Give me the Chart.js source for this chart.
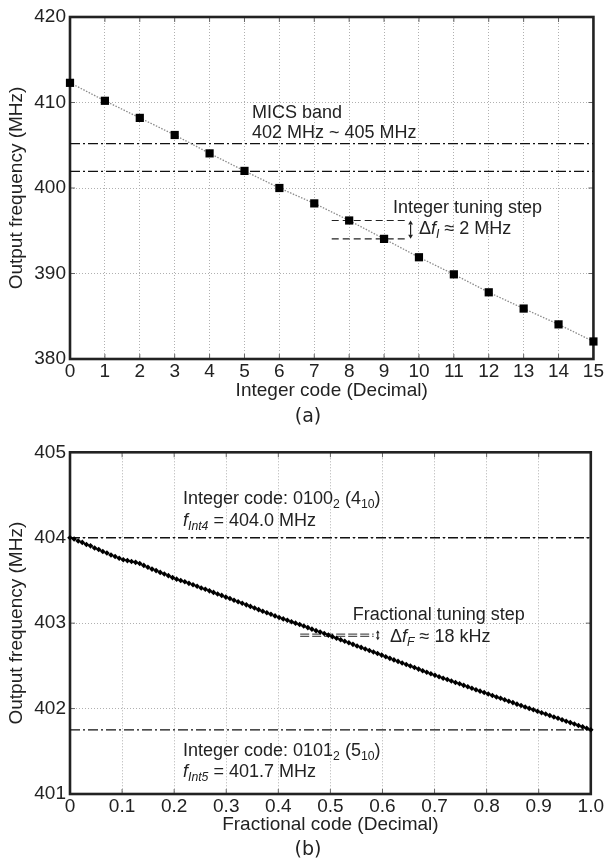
<!DOCTYPE html>
<html>
<head>
<meta charset="utf-8">
<script src="https://cdn.jsdelivr.net/npm/chart.js"></script>
<style>
  body { margin: 0; background: #fff; }
  canvas { position: absolute; left: 0; }
  #chart-a { top: 0; }
  #chart-b { top: 433px; }
</style>
</head>
<body>
<canvas id="chart-a" width="605" height="433"></canvas>
<canvas id="chart-b" width="605" height="430"></canvas>
<script>
// (a) integer code sweep
const intCodes = [0, 1, 2, 3, 4, 5, 6, 7, 8, 9, 10, 11, 12, 13, 14, 15];
const intFreq = [412.3, 410.2, 408.2, 406.2, 404.05, 402.0, 400.0, 398.2, 396.2, 394.05, 391.9, 389.9, 387.8, 385.9, 384.05, 382.05];
const micsEdges = [405.2, 401.95];
const intStepX = [7.5, 9.6];
const intStepY = [396.2, 394.05];

// (b) fractional code sweep, 128 codes spread over 0..1
const fracFreq = [
  404.000, 403.985, 403.962, 403.945, 403.921, 403.905, 403.880, 403.862, 403.838, 403.822,
  403.798, 403.781, 403.760, 403.742, 403.732, 403.722, 403.712, 403.698, 403.676, 403.655,
  403.633, 403.615, 403.594, 403.576, 403.556, 403.533, 403.515, 403.500, 403.484, 403.466,
  403.450, 403.432, 403.412, 403.396, 403.378, 403.360, 403.342, 403.325, 403.305, 403.288,
  403.268, 403.250, 403.233, 403.214, 403.196, 403.178, 403.158, 403.140, 403.122, 403.104,
  403.085, 403.066, 403.050, 403.034, 403.017, 403.000, 402.984, 402.966, 402.948, 402.930,
  402.912, 402.896, 402.878, 402.860, 402.842, 402.824, 402.806, 402.788, 402.770, 402.752,
  402.733, 402.716, 402.698, 402.680, 402.662, 402.644, 402.626, 402.606, 402.588, 402.570,
  402.552, 402.534, 402.516, 402.498, 402.480, 402.462, 402.443, 402.425, 402.408, 402.390,
  402.372, 402.355, 402.340, 402.322, 402.306, 402.290, 402.272, 402.255, 402.238, 402.221,
  402.204, 402.188, 402.170, 402.153, 402.136, 402.120, 402.103, 402.086, 402.070, 402.052,
  402.036, 402.019, 402.002, 401.986, 401.969, 401.952, 401.936, 401.919, 401.902, 401.886,
  401.869, 401.852, 401.836, 401.819, 401.802, 401.786, 401.769, 401.752
];
const intLevels = [404.0, 401.75];
const fracStepX = [0.442, 0.583];
const fracStepY = [402.872, 402.846];

const FONT = '"Liberation Sans", Arial, sans-serif';
const INK = '#222';
Chart.defaults.font.family = FONT;
Chart.defaults.color = INK;

// draw text pieces in a row, with italic / subscript parts
function richText(ctx, x, y, parts, size) {
  parts.forEach(p => {
    const s = p.sub ? size * 0.68 : size;
    ctx.font = (p.it ? 'italic ' : '') + s + 'px ' + FONT;
    ctx.fillText(p.t, x, p.sub ? y + size * 0.3 : y);
    x += ctx.measureText(p.t).width;
  });
}

function vArrow(ctx, x, y1, y2, head) {
  ctx.beginPath();
  ctx.moveTo(x, y1 + head); ctx.lineTo(x, y2 - head);
  ctx.stroke();
  ctx.beginPath();
  ctx.moveTo(x, y1); ctx.lineTo(x - head * 0.6, y1 + head); ctx.lineTo(x + head * 0.6, y1 + head); ctx.closePath();
  ctx.moveTo(x, y2); ctx.lineTo(x - head * 0.6, y2 - head); ctx.lineTo(x + head * 0.6, y2 - head); ctx.closePath();
  ctx.fill();
}

// box around plot + inward tick marks
const framePlugin = {
  id: 'frame',
  beforeDatasetsDraw(chart) {
    const { ctx, chartArea: a, scales: { x, y } } = chart;
    ctx.save();
    ctx.strokeStyle = '#666';
    ctx.lineWidth = 1;
    ctx.beginPath();
    x.ticks.forEach(t => {
      const px = x.getPixelForValue(t.value);
      ctx.moveTo(px, a.bottom); ctx.lineTo(px, a.bottom - 5);
      ctx.moveTo(px, a.top); ctx.lineTo(px, a.top + 5);
    });
    y.ticks.forEach(t => {
      const py = y.getPixelForValue(t.value);
      ctx.moveTo(a.left, py); ctx.lineTo(a.left + 5, py);
      ctx.moveTo(a.right, py); ctx.lineTo(a.right - 5, py);
    });
    ctx.stroke();
    ctx.strokeStyle = INK;
    ctx.lineWidth = 2.6;
    ctx.strokeRect(a.left, a.top, a.right - a.left, a.bottom - a.top);
    ctx.restore();
  }
};

function lineSet(xs, yv, dash, color, width) {
  return {
    data: [{ x: xs[0], y: yv }, { x: xs[1], y: yv }],
    borderColor: color, borderWidth: width, borderDash: dash,
    pointRadius: 0, fill: false
  };
}

function axes(xMin, xMax, xStep, yMin, yMax, yStep, xTitle, xPad, xH, xFmt) {
  return {
    x: {
      type: 'linear', min: xMin, max: xMax,
      ticks: { stepSize: xStep, padding: 1, font: { size: 19 }, color: INK, callback: xFmt },
      grid: { color: '#b0b0b0', lineWidth: 1, drawTicks: false },
      border: { display: false, dash: [1, 2] },
      title: { display: true, text: xTitle, font: { size: 19 }, color: INK, padding: { top: 0, bottom: xPad } },
      afterFit(s) { s.height = xH; }
    },
    y: {
      min: yMin, max: yMax,
      ticks: { stepSize: yStep, padding: 4, font: { size: 19 }, color: INK },
      grid: { color: '#b0b0b0', lineWidth: 1, drawTicks: false },
      border: { display: false, dash: [1, 2] },
      title: { display: true, text: 'Output frequency (MHz)', font: { size: 19 }, color: INK, padding: { top: 5.6, bottom: 0 } },
      afterFit(s) { s.width = 70; }
    }
  };
}

// ---------- chart (a) ----------
const notesA = {
  id: 'notesA',
  afterDatasetsDraw(chart) {
    const { ctx, scales: { x, y } } = chart;
    ctx.save();
    ctx.fillStyle = INK;
    ctx.strokeStyle = INK;
    ctx.textBaseline = 'middle';
    ctx.textAlign = 'left';
    richText(ctx, 252, 113, [{ t: 'MICS band' }], 18);
    richText(ctx, 252, 133, [{ t: '402 MHz ~ 405 MHz' }], 18);
    richText(ctx, 393, 208, [{ t: 'Integer tuning step' }], 18);
    richText(ctx, 419, 229, [{ t: 'Δ' }, { t: 'f', it: 1 }, { t: 'I', it: 1, sub: 1 }, { t: ' ≈ 2 MHz' }], 18);
    ctx.lineWidth = 1.2;
    vArrow(ctx, x.getPixelForValue(9.76), y.getPixelForValue(intStepY[0]), y.getPixelForValue(intStepY[1]), 4);
    ctx.textAlign = 'center';
    ctx.font = '19px "DejaVu Sans", sans-serif';
    ctx.fillText('(a)', 308, 417);
    ctx.restore();
  }
};

new Chart(document.getElementById('chart-a'), {
  type: 'line',
  data: {
    datasets: [
      {
        data: intCodes.map((c, i) => ({ x: c, y: intFreq[i] })),
        borderColor: '#8a8a8a', borderWidth: 1.3, borderDash: [1.5, 1.5],
        pointStyle: 'rect', pointRadius: 5.8, pointBackgroundColor: '#000', pointBorderWidth: 0,
        clip: false
      },
      lineSet(intStepX, intStepY[0], [7, 4], '#222', 1.2),
      lineSet(intStepX, intStepY[1], [7, 4], '#222', 1.2),
      lineSet([0, 15], micsEdges[0], [10, 3, 2, 3], '#111', 1.3),
      lineSet([0, 15], micsEdges[1], [10, 3, 2, 3], '#111', 1.3)
    ]
  },
  options: {
    responsive: false, animation: false, devicePixelRatio: 1,
    layout: { autoPadding: false, padding: { left: 0, top: 17, right: 11, bottom: 0 } },
    plugins: { legend: { display: false }, tooltip: { enabled: false } },
    scales: axes(0, 15, 1, 380, 420, 10, 'Integer code (Decimal)', 30.6, 74)
  },
  plugins: [framePlugin, notesA]
});

// ---------- chart (b) ----------
const notesB = {
  id: 'notesB',
  afterDatasetsDraw(chart) {
    const { ctx, scales: { x, y } } = chart;
    ctx.save();
    ctx.fillStyle = INK;
    ctx.strokeStyle = INK;
    ctx.textBaseline = 'middle';
    ctx.textAlign = 'left';
    richText(ctx, 183, 66.3, [{ t: 'Integer code: 0100' }, { t: '2', sub: 1 }, { t: ' (4' }, { t: '10', sub: 1 }, { t: ')' }], 18);
    richText(ctx, 183, 87.7, [{ t: 'f', it: 1 }, { t: 'Int4', it: 1, sub: 1 }, { t: ' = 404.0 MHz' }], 18);
    richText(ctx, 352.7, 182, [{ t: 'Fractional tuning step' }], 18);
    richText(ctx, 390, 203.7, [{ t: 'Δ' }, { t: 'f', it: 1 }, { t: 'F', it: 1, sub: 1 }, { t: ' ≈ 18 kHz' }], 18);
    richText(ctx, 183, 318, [{ t: 'Integer code: 0101' }, { t: '2', sub: 1 }, { t: ' (5' }, { t: '10', sub: 1 }, { t: ')' }], 18);
    richText(ctx, 183, 338.7, [{ t: 'f', it: 1 }, { t: 'Int5', it: 1, sub: 1 }, { t: ' = 401.7 MHz' }], 18);
    ctx.lineWidth = 1.2;
    const mid = (y.getPixelForValue(fracStepY[0]) + y.getPixelForValue(fracStepY[1])) / 2;
    vArrow(ctx, x.getPixelForValue(0.591), mid - 5, mid + 5, 3);
    ctx.textAlign = 'center';
    ctx.font = '19px "DejaVu Sans", sans-serif';
    ctx.fillText('(b)', 308, 417);
    ctx.restore();
  }
};

new Chart(document.getElementById('chart-b'), {
  type: 'line',
  data: {
    datasets: [
      {
        data: fracFreq.map((f, i) => ({ x: i / (fracFreq.length - 1), y: f })),
        borderColor: '#111', borderWidth: 1,
        pointStyle: 'rectRot', pointRadius: 2.8, pointBackgroundColor: '#000', pointBorderWidth: 0,
        clip: false
      },
      lineSet(fracStepX, fracStepY[0], [9, 3], '#555', 1.2),
      lineSet(fracStepX, fracStepY[1], [9, 3], '#555', 1.2),
      lineSet([0, 1], intLevels[0], [10, 3, 2, 3], '#111', 1.3),
      lineSet([0, 1], intLevels[1], [10, 3, 2, 3], '#111', 1.3)
    ]
  },
  options: {
    responsive: false, animation: false, devicePixelRatio: 1,
    layout: { autoPadding: false, padding: { left: 0, top: 19.3, right: 9, bottom: 0 } },
    plugins: { legend: { display: false }, tooltip: { enabled: false } },
    scales: axes(0, 1, 0.1, 401, 405, 1, 'Fractional code (Decimal)', 26.6, 69,
      v => (v === 0 ? '0' : Number(v).toFixed(1)))
  },
  plugins: [framePlugin, notesB]
});
</script>
</body>
</html>
